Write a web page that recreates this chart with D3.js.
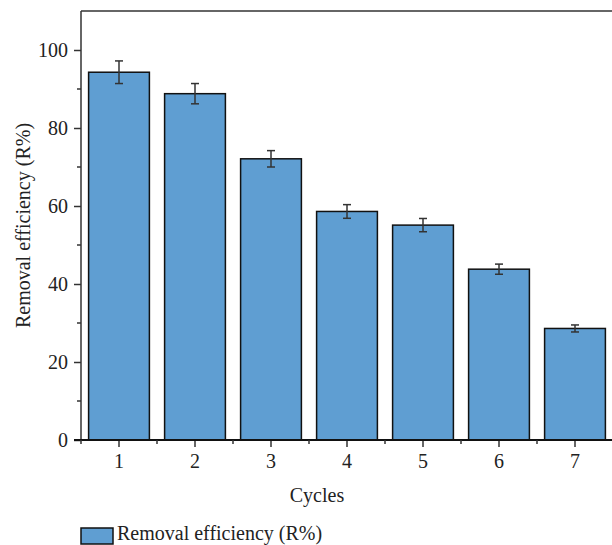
<!DOCTYPE html>
<html>
<head>
<meta charset="utf-8">
<script src="https://cdn.jsdelivr.net/npm/d3@7"></script>
<style>
  html, body { margin: 0; padding: 0; background: #fff; }
  svg { display: block; }
  text { font-family: "Liberation Serif", "DejaVu Serif", serif; fill: #222; }
</style>
</head>
<body>
<svg id="chart" width="612" height="545"></svg>
<script>
// Removal efficiency over successive reuse cycles
const cycles = ["1", "2", "3", "4", "5", "6", "7"];
const efficiency = [94.3, 88.8, 72.1, 58.6, 55.1, 43.8, 28.6];
const errors = [2.9, 2.6, 2.1, 1.75, 1.7, 1.3, 0.9];
const yTicks = [0, 20, 40, 60, 80, 100];
const yMinorTicks = [10, 30, 50, 70, 90];
const seriesName = "Removal efficiency (R%)";

const svg = d3.select("#chart");
const plot = { left: 81, right: 613, top: 11, bottom: 440 };
const fontSize = "20px";

// inner gap 0.2 of a step, half of that at each outer edge so categories sit at step centres
const x = d3.scaleBand().domain(cycles).range([plot.left, plot.right])
  .paddingInner(0.2).paddingOuter(0.1);
const y = d3.scaleLinear().domain([0, 110]).range([plot.bottom, plot.top]);

const axisColor = "#333";
const barFill = "#5f9ed2";

// bars
svg.append("g").selectAll("rect")
  .data(cycles)
  .join("rect")
  .attr("x", d => x(d))
  .attr("y", (d, i) => y(efficiency[i]))
  .attr("width", x.bandwidth())
  .attr("height", (d, i) => y(0) - y(efficiency[i]))
  .attr("fill", barFill)
  .attr("stroke", "#111")
  .attr("stroke-width", 1.5);

// error bars
const eg = svg.append("g").attr("stroke", "#333").attr("stroke-width", 1.5);
cycles.forEach((c, i) => {
  const cx = x(c) + x.bandwidth() / 2;
  const hi = y(efficiency[i] + errors[i]);
  const lo = y(efficiency[i] - errors[i]);
  eg.append("line").attr("x1", cx).attr("x2", cx).attr("y1", hi).attr("y2", lo);
  eg.append("line").attr("x1", cx - 4).attr("x2", cx + 4).attr("y1", hi).attr("y2", hi);
  eg.append("line").attr("x1", cx - 4).attr("x2", cx + 4).attr("y1", lo).attr("y2", lo);
});

// top frame line
svg.append("line")
  .attr("x1", plot.left).attr("x2", plot.right).attr("y1", plot.top).attr("y2", plot.top)
  .attr("stroke", axisColor).attr("stroke-width", 1.5);

// y axis
const yAxis = svg.append("g")
  .attr("transform", `translate(${plot.left},0)`)
  .call(d3.axisLeft(y).tickValues(yTicks).tickSize(7).tickPadding(6));
yAxis.select(".domain").remove();
svg.append("line")
  .attr("x1", plot.left).attr("x2", plot.left).attr("y1", plot.top).attr("y2", plot.bottom)
  .attr("stroke", axisColor).attr("stroke-width", 1.5);
yAxis.selectAll(".tick line").attr("stroke", axisColor).attr("stroke-width", 1.5);
yAxis.selectAll(".tick text")
  .style("font-family", '"Liberation Serif", serif').style("font-size", fontSize).attr("fill", "#222");
svg.append("g").selectAll("line")
  .data(yMinorTicks)
  .join("line")
  .attr("x1", plot.left - 4).attr("x2", plot.left)
  .attr("y1", d => y(d)).attr("y2", d => y(d))
  .attr("stroke", axisColor).attr("stroke-width", 1.5);

// x axis
const xAxis = svg.append("g")
  .attr("transform", `translate(0,${plot.bottom})`)
  .call(d3.axisBottom(x).tickSize(7).tickPadding(7));
xAxis.select(".domain").remove();
svg.append("line")
  .attr("x1", plot.left - 7).attr("x2", plot.right).attr("y1", plot.bottom).attr("y2", plot.bottom)
  .attr("stroke", "#111").attr("stroke-width", 2);
xAxis.selectAll(".tick line").attr("stroke", axisColor).attr("stroke-width", 1.5);
xAxis.selectAll(".tick text")
  .style("font-family", '"Liberation Serif", serif').style("font-size", fontSize).attr("fill", "#222");
// minor ticks on the boundaries between categories
const step = x.step();
const firstEdge = x(cycles[0]) - step * x.paddingOuter();
svg.append("g").selectAll("line")
  .data(d3.range(cycles.length + 1))
  .join("line")
  .attr("x1", i => firstEdge + i * step).attr("x2", i => firstEdge + i * step)
  .attr("y1", plot.bottom).attr("y2", plot.bottom + 4)
  .attr("stroke", axisColor).attr("stroke-width", 1.5);

// axis titles
svg.append("text")
  .attr("x", 317).attr("y", 502)
  .attr("text-anchor", "middle")
  .style("font-size", fontSize)
  .text("Cycles");
svg.append("text")
  .attr("transform", `translate(30,${(plot.top + plot.bottom) / 2}) rotate(-90)`)
  .attr("text-anchor", "middle")
  .style("font-size", fontSize)
  .text("Removal efficiency (R%)");

// legend
svg.append("rect")
  .attr("x", 81).attr("y", 528).attr("width", 32).attr("height", 16)
  .attr("fill", barFill).attr("stroke", "#111").attr("stroke-width", 1.5);
svg.append("text")
  .attr("x", 117).attr("y", 540)
  .style("font-size", fontSize)
  .text(seriesName);
</script>
</body>
</html>
